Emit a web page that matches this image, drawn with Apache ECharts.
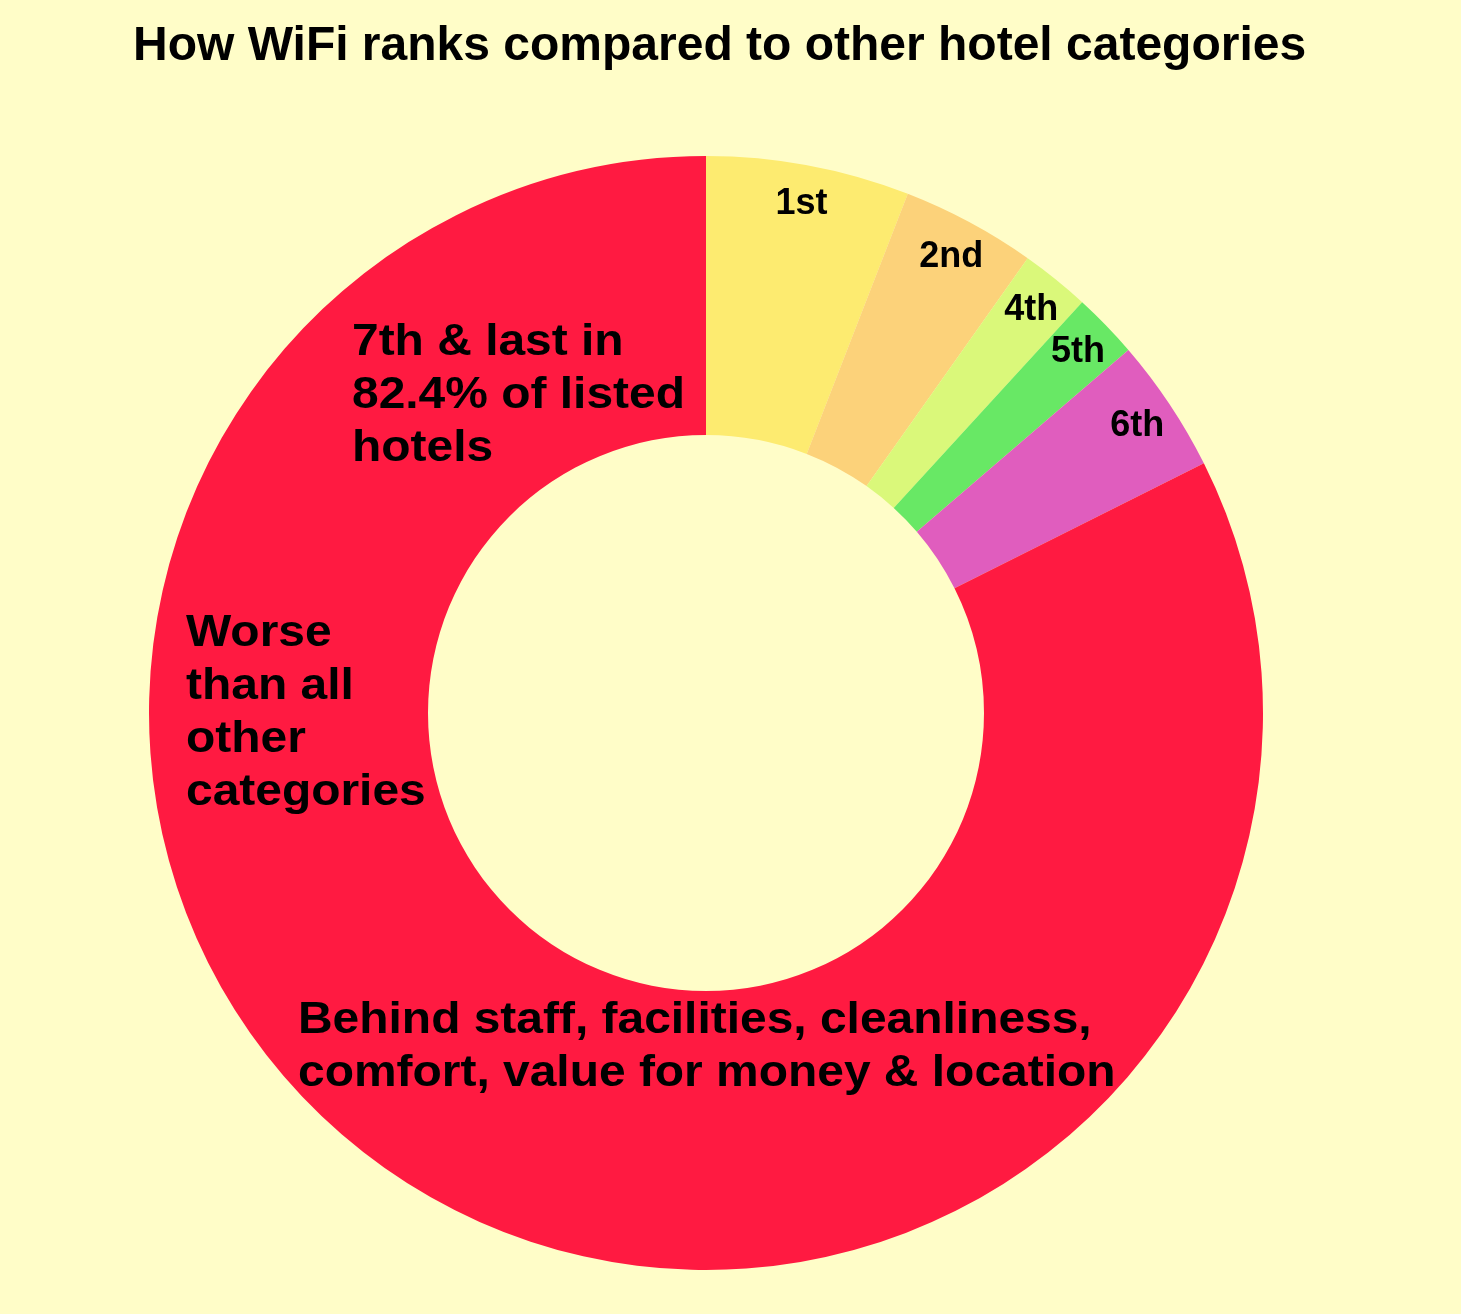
<!DOCTYPE html>
<html>
<head>
<meta charset="utf-8">
<script src="https://cdn.jsdelivr.net/npm/echarts@6/dist/echarts.min.js"></script>
<style>
html,body{margin:0;padding:0;background:#FFFDC8;}
#chart{width:1461px;height:1314px;}
</style>
</head>
<body>
<div id="chart"></div>
<script>
const categories = ['1st', '2nd', '4th', '5th', '6th', '7th'];
const values = [5.9, 3.9, 2.0, 1.9, 3.9, 82.4];
const sliceColors = ['#FDEB70', '#FCD27A', '#DAF87A', '#68E865', '#E05DBE', '#FF1A41'];
const sliceLabels = ['1st', '2nd', '4th', '5th', '6th', ''];
const titleText = 'How WiFi ranks compared to other hotel categories';
const noteLast = '7th & last in\n82.4% of listed\nhotels';
const noteWorse = 'Worse\nthan all\nother\ncategories';
const noteBehind = 'Behind staff, facilities, cleanliness,\ncomfort, value for money & location';

const FONT = 'Liberation Sans';
const chart = echarts.init(document.getElementById('chart'));

const pieData = categories.map((c, i) => ({
  name: c, value: values[i], itemStyle: { color: sliceColors[i] }
}));
const labelData = categories.map((c, i) => ({
  name: c, value: values[i],
  label: { show: sliceLabels[i] !== '', formatter: sliceLabels[i] }
}));

function note(text, x, y) {
  return {
    type: 'text', x: x, y: y, z: 100, scaleX: 1.065,
    style: {
      text: text, fill: '#000', fontSize: 45, fontWeight: 'bold',
      fontFamily: FONT, lineHeight: 53, verticalAlign: 'top'
    }
  };
}

chart.setOption({
  backgroundColor: '#FFFDC8',
  animation: false,
  title: {
    text: titleText,
    left: 128,
    top: 18,
    textStyle: { fontFamily: FONT, fontSize: 48, fontWeight: 'bold', color: '#000' }
  },
  series: [
    {
      type: 'pie',
      center: [706, 713],
      radius: [278, 557],
      startAngle: 90,
      clockwise: true,
      silent: true,
      label: { show: false },
      labelLine: { show: false },
      data: pieData
    },
    {
      type: 'pie',
      center: [706, 713],
      radius: [492, 538],
      startAngle: 90,
      clockwise: true,
      silent: true,
      itemStyle: { color: 'transparent' },
      label: {
        position: 'inside',
        fontFamily: FONT,
        fontSize: 36,
        fontWeight: 'bold',
        color: '#000'
      },
      labelLine: { show: false },
      data: labelData
    }
  ],
  graphic: [
    note(noteLast, 352, 316),
    note(noteWorse, 186, 607),
    note(noteBehind, 298, 994)
  ]
});
</script>
</body>
</html>
